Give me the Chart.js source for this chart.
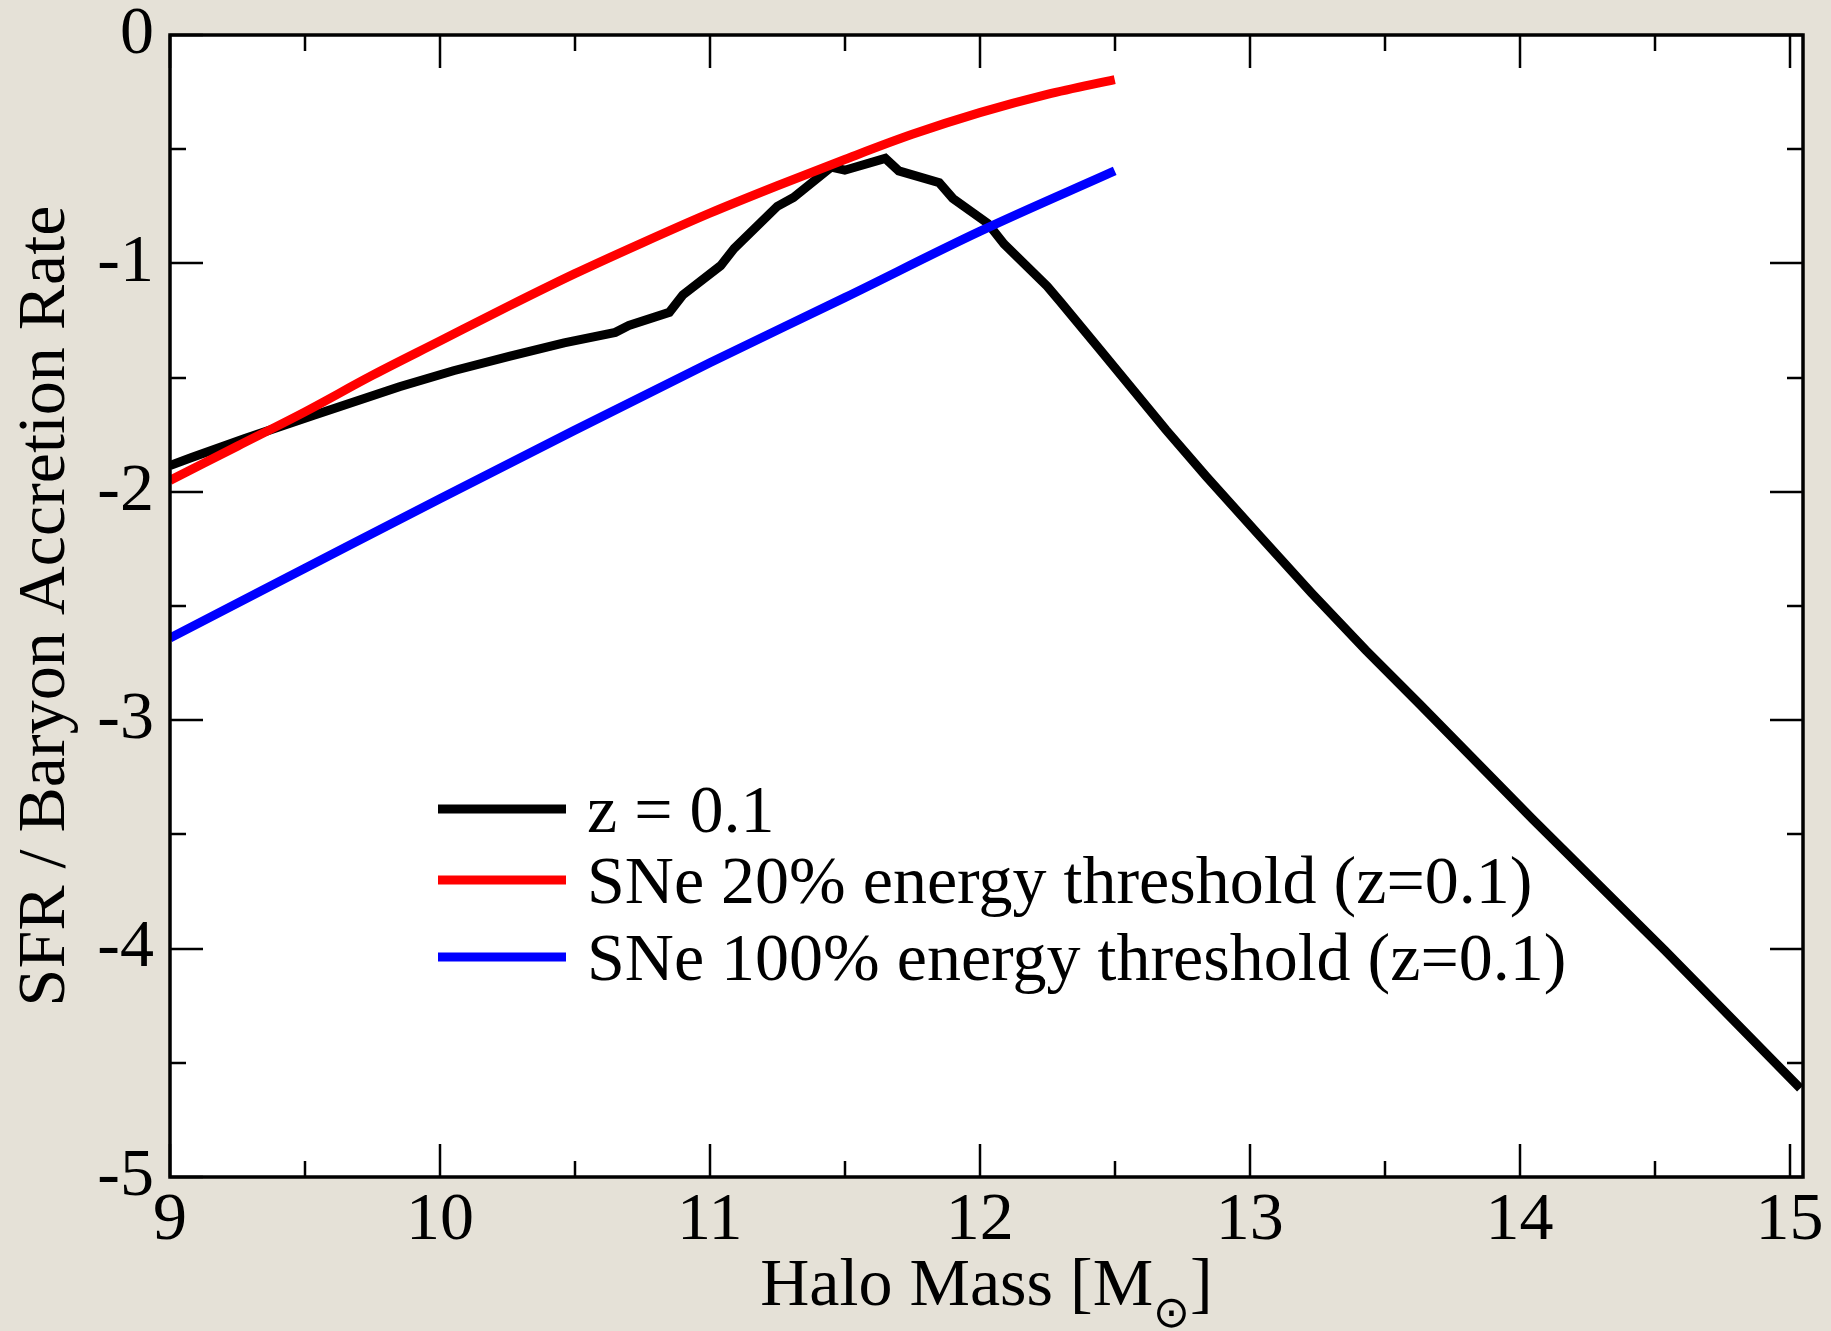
<!DOCTYPE html>
<html>
<head>
<meta charset="utf-8">
<title>SFR / Baryon Accretion Rate vs Halo Mass</title>
<script src="https://cdn.jsdelivr.net/npm/chart.js@4/dist/chart.umd.min.js"></script>
<style>
  html, body { margin: 0; padding: 0; background: #e5e1d7; }
  canvas { display: block; }
</style>
</head>
<body>
<canvas id="chart" width="1831" height="1331"></canvas>
<script>
// Halo mass (log10 M_sun) and SFR / baryon accretion rate (log10) for z = 0.1
const massZ01 = [9.0, 9.08, 9.28, 9.53, 9.85, 10.05, 10.26, 10.46, 10.65, 10.70, 10.85, 10.90,
                 11.04, 11.09, 11.25, 11.31, 11.45, 11.50, 11.65, 11.70, 11.85, 11.90, 12.03,
                 12.09, 12.25, 12.30, 12.44, 12.69, 12.84, 13.04, 13.23, 13.43, 13.63, 14.05,
                 14.54, 15.04];
const ratioZ01 = [-1.885, -1.85, -1.766, -1.666, -1.54, -1.47, -1.406, -1.348, -1.302, -1.272,
                  -1.214, -1.138, -1.010, -0.935, -0.750, -0.711, -0.578, -0.592, -0.540, -0.595,
                  -0.647, -0.715, -0.825, -0.915, -1.100, -1.17, -1.37, -1.729, -1.934, -2.197,
                  -2.444, -2.693, -2.93, -3.435, -4.01, -4.612];

// Threshold where supernovae deliver 20% of their energy
const mass20 = [9.0, 9.25, 9.5, 9.75, 10.0, 10.25, 10.5, 10.75, 11.0, 11.25, 11.5, 11.75, 12.0, 12.25, 12.5];
const ratio20 = [-1.95, -1.80, -1.65, -1.49, -1.34, -1.19, -1.045, -0.91, -0.78, -0.66, -0.545,
                 -0.435, -0.34, -0.26, -0.195];

// Threshold where supernovae deliver 100% of their energy
const mass100 = [9.0, 9.5, 10.0, 10.5, 11.0, 11.5, 12.0, 12.5];
const ratio100 = [-2.64, -2.335, -2.03, -1.73, -1.435, -1.15, -0.86, -0.595];

const seriesLabels = ['z = 0.1', 'SNe 20% energy threshold (z=0.1)', 'SNe 100% energy threshold (z=0.1)'];
const seriesColors = ['#000000', '#ff0000', '#0000ff'];

const xTickValues = [9, 10, 11, 12, 13, 14, 15];
const yTickValues = [0, -1, -2, -3, -4, -5];

const SERIF = "'Liberation Serif', 'Times New Roman', serif";
const FONT_SIZE = 68;

function toPoints(xs, ys) {
  return xs.map((x, i) => ({ x: x, y: ys[i] }));
}

// Paper background and white plotting area
const backdrop = {
  id: 'backdrop',
  beforeDraw(chart) {
    const { ctx, chartArea: a } = chart;
    ctx.save();
    ctx.fillStyle = '#e5e1d7';
    ctx.fillRect(0, 0, chart.width, chart.height);
    ctx.fillStyle = '#ffffff';
    ctx.fillRect(a.left, a.top, a.right - a.left, a.bottom - a.top);
    ctx.restore();
  }
};

// Closed frame with inward major and minor ticks on all four sides
const frameTicks = {
  id: 'frameTicks',
  afterDatasetsDraw(chart) {
    const { ctx, chartArea: a, scales: { x, y } } = chart;
    ctx.save();
    ctx.strokeStyle = '#000';
    ctx.lineWidth = 2.5;
    ctx.lineCap = 'butt';
    const seg = (x1, y1, x2, y2) => { ctx.beginPath(); ctx.moveTo(x1, y1); ctx.lineTo(x2, y2); ctx.stroke(); };
    const majorLen = 33, minorLen = 16;
    const xMarks = [];
    xTickValues.forEach((v, i) => {
      xMarks.push([v, majorLen]);
      if (i < xTickValues.length - 1) xMarks.push([(v + xTickValues[i + 1]) / 2, minorLen]);
    });
    xMarks.forEach(([v, len]) => {
      const px = Math.round(x.getPixelForValue(v));
      seg(px, a.bottom, px, a.bottom - len);
      seg(px, a.top, px, a.top + len);
    });
    const yMarks = [];
    yTickValues.forEach((v, i) => {
      yMarks.push([v, majorLen]);
      if (i < yTickValues.length - 1) yMarks.push([(v + yTickValues[i + 1]) / 2, minorLen]);
    });
    yMarks.forEach(([v, len]) => {
      const py = Math.round(y.getPixelForValue(v));
      seg(a.left, py, a.left + len, py);
      seg(a.right, py, a.right - len, py);
    });
    ctx.lineWidth = 3.5;
    ctx.strokeRect(a.left, a.top, a.right - a.left, a.bottom - a.top);
    ctx.restore();
  }
};

// Legend inside the plot, one line sample per dataset
const insideLegend = {
  id: 'insideLegend',
  afterDraw(chart) {
    const { ctx } = chart;
    const rows = [809, 880, 957];
    const lineX0 = 438, lineX1 = 566, textX = 587;
    ctx.save();
    ctx.font = FONT_SIZE + 'px ' + SERIF;
    ctx.textAlign = 'left';
    ctx.textBaseline = 'alphabetic';
    chart.data.datasets.forEach((ds, i) => {
      const yy = rows[i];
      ctx.strokeStyle = ds.borderColor;
      ctx.lineWidth = 9;
      ctx.beginPath();
      ctx.moveTo(lineX0, yy);
      ctx.lineTo(lineX1, yy);
      ctx.stroke();
      ctx.fillStyle = '#000';
      ctx.fillText(ds.label, textX, yy + 23);
    });
    ctx.restore();
  }
};

// Horizontal axis title with the solar-mass subscript
const xTitle = {
  id: 'xTitle',
  afterDraw(chart) {
    const { ctx, chartArea: a } = chart;
    const main = 'Halo Mass [M';
    const sub = '\u2299';
    const close = ']';
    ctx.save();
    ctx.fillStyle = '#000';
    ctx.textBaseline = 'alphabetic';
    ctx.textAlign = 'left';
    ctx.font = FONT_SIZE + 'px ' + SERIF;
    const wMain = ctx.measureText(main).width;
    const wClose = ctx.measureText(close).width;
    const subFont = '44px ' + SERIF;
    ctx.font = subFont;
    const wSub = ctx.measureText(sub).width;
    const total = wMain + wSub + wClose;
    const x0 = (a.left + a.right) / 2 - total / 2;
    const base = 1305;
    ctx.font = FONT_SIZE + 'px ' + SERIF;
    ctx.fillText(main, x0, base);
    ctx.font = subFont;
    ctx.fillText(sub, x0 + wMain, base + 22);
    ctx.font = FONT_SIZE + 'px ' + SERIF;
    ctx.fillText(close, x0 + wMain + wSub, base);
    ctx.restore();
  }
};

const ctx = document.getElementById('chart').getContext('2d');
new Chart(ctx, {
  type: 'line',
  data: {
    datasets: [
      {
        label: seriesLabels[0],
        data: toPoints(massZ01, ratioZ01),
        borderColor: seriesColors[0],
        borderWidth: 9,
        pointRadius: 0,
        tension: 0,
        borderJoinStyle: 'miter',
        order: 3
      },
      {
        label: seriesLabels[1],
        data: toPoints(mass20, ratio20),
        borderColor: seriesColors[1],
        borderWidth: 9,
        pointRadius: 0,
        cubicInterpolationMode: 'monotone',
        order: 2
      },
      {
        label: seriesLabels[2],
        data: toPoints(mass100, ratio100),
        borderColor: seriesColors[2],
        borderWidth: 9,
        pointRadius: 0,
        cubicInterpolationMode: 'monotone',
        order: 1
      }
    ]
  },
  options: {
    responsive: false,
    animation: false,
    events: [],
    layout: { autoPadding: false, padding: { top: 35, right: 28, left: 0, bottom: 0 } },
    plugins: {
      legend: { display: false },
      tooltip: { enabled: false }
    },
    scales: {
      x: {
        type: 'linear',
        position: 'bottom',
        min: 9,
        max: 15.05,
        grid: { display: false, drawTicks: false },
        border: { display: false },
        afterBuildTicks(scale) { scale.ticks = xTickValues.map(v => ({ value: v })); },
        afterFit(scale) {
          scale.height = 154;
          scale.paddingLeft = 0;
          scale.paddingRight = 0;
        },
        ticks: {
          autoSkip: false,
          maxRotation: 0,
          padding: 3,
          color: '#000',
          font: { family: SERIF, size: FONT_SIZE },
          callback: v => String(v)
        }
      },
      y: {
        type: 'linear',
        position: 'left',
        min: -5,
        max: 0,
        grid: { display: false, drawTicks: false },
        border: { display: false },
        afterBuildTicks(scale) { scale.ticks = yTickValues.map(v => ({ value: v })); },
        afterFit(scale) {
          scale.width = 170;
          scale.paddingTop = 0;
          scale.paddingBottom = 0;
        },
        ticks: {
          autoSkip: false,
          padding: 16,
          color: '#000',
          font: { family: SERIF, size: FONT_SIZE },
          callback: v => String(v)
        },
        title: {
          display: true,
          text: 'SFR / Baryon Accretion Rate',
          color: '#000',
          padding: { top: 5, bottom: 0 },
          font: { family: SERIF, size: FONT_SIZE }
        }
      }
    }
  },
  plugins: [backdrop, frameTicks, insideLegend, xTitle]
});
</script>
</body>
</html>
